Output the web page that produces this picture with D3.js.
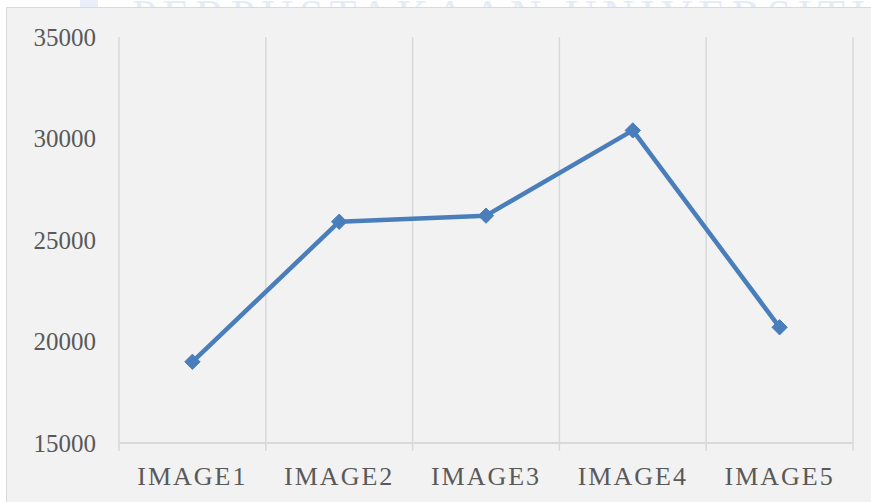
<!DOCTYPE html>
<html>
<head>
<meta charset="utf-8">
<script src="https://cdn.jsdelivr.net/npm/d3@7"></script>
<style>
  html, body { margin: 0; padding: 0; background: #ffffff; }
  svg { display: block; }
</style>
</head>
<body>
<svg id="chart" width="871" height="502"></svg>
<script>
// Category names, measured values and value-axis ticks
const categories = ["IMAGE1", "IMAGE2", "IMAGE3", "IMAGE4", "IMAGE5"];
const values = [19000, 25900, 26200, 30400, 20700];
const yTicks = [15000, 20000, 25000, 30000, 35000];

const W = 871, H = 502;
const plot = { left: 119, right: 853, top: 37, bottom: 443 };

const svg = d3.select("#chart");

// faint watermark lettering peeking above the chart frame
svg.append("clipPath").attr("id", "wm-clip")
  .append("rect").attr("x", 0).attr("y", 0).attr("width", W).attr("height", 7);
svg.append("rect")
  .attr("x", 80).attr("y", 0).attr("width", 18).attr("height", 7)
  .attr("fill", "#e8eff9");
svg.append("text")
  .attr("clip-path", "url(#wm-clip)")
  .attr("x", 132).attr("y", 30)
  .attr("font-family", "Liberation Serif, serif")
  .attr("font-size", 44)
  .attr("letter-spacing", 6)
  .attr("fill", "#e4ecf7")
  .text("PERPUSTAKAAN UNIVERSITI");

// chart frame
svg.append("rect")
  .attr("x", 6.5).attr("y", 7.5)
  .attr("width", W).attr("height", H)
  .attr("fill", "#f2f2f2")
  .attr("stroke", "#d9d9d9")
  .attr("stroke-width", 1);

const x = d3.scaleBand().domain(categories).range([plot.left, plot.right]).padding(0);
const y = d3.scaleLinear().domain([15000, 35000]).range([plot.bottom, plot.top]);

// vertical gridlines at category boundaries
const bounds = categories.map(c => x(c)).concat([x(categories[categories.length - 1]) + x.bandwidth()]);
svg.append("g").selectAll("line").data(bounds).join("line")
  .attr("x1", d => d).attr("x2", d => d)
  .attr("y1", plot.top).attr("y2", plot.bottom + 8)
  .attr("stroke", "#d9d9d9").attr("stroke-width", 1.5);

// category axis line
svg.append("line")
  .attr("x1", plot.left).attr("x2", plot.right)
  .attr("y1", y(15000)).attr("y2", y(15000))
  .attr("stroke", "#d9d9d9").attr("stroke-width", 2);

// value axis labels
svg.append("g").selectAll("text").data(yTicks).join("text")
  .attr("x", 96).attr("y", d => y(d))
  .attr("dy", "0.35em")
  .attr("text-anchor", "end")
  .attr("font-family", "Liberation Serif, serif")
  .attr("font-size", 25)
  .attr("fill", "#595959")
  .text(d => d);

// category labels
svg.append("g").selectAll("text").data(categories).join("text")
  .attr("x", d => x(d) + x.bandwidth() / 2)
  .attr("y", 485)
  .attr("text-anchor", "middle")
  .attr("font-family", "Liberation Serif, serif")
  .attr("font-size", 26)
  .attr("letter-spacing", 2)
  .attr("fill", "#595959")
  .text(d => d);

const pts = categories.map((c, i) => [x(c) + x.bandwidth() / 2, y(values[i])]);

// series line
svg.append("path")
  .attr("d", d3.line()(pts))
  .attr("fill", "none")
  .attr("stroke", "#4a7ebb")
  .attr("stroke-width", 4.5)
  .attr("stroke-linejoin", "round");

// diamond markers
svg.append("g").selectAll("path").data(pts).join("path")
  .attr("transform", d => `translate(${d[0]},${d[1]})`)
  .attr("d", d3.symbol().type(d3.symbolDiamond2).size(150))
  .attr("fill", "#4a7ebb")
  .attr("stroke", "#4a7ebb")
  .attr("stroke-width", 1)
  .attr("stroke-linejoin", "round");
</script>
</body>
</html>
